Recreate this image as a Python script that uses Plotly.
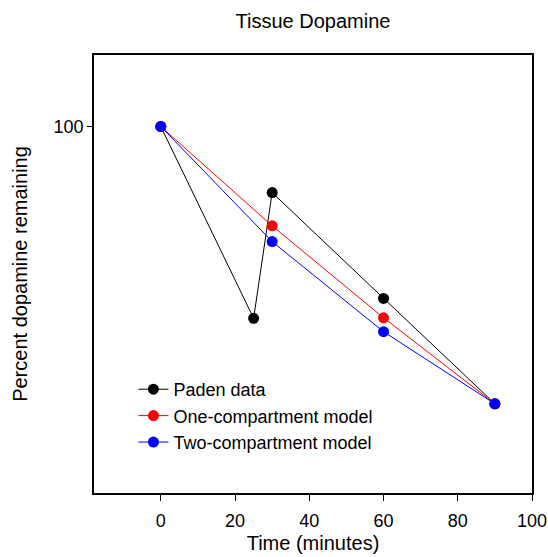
import plotly.graph_objects as go

paden_t = [0, 25, 30, 60, 90]
paden_v = [100, 47.9, 77.6, 51.7, 34.5]

one_t = [0, 30, 60, 90]
one_v = [100, 68.3, 48.0, 34.5]

two_t = [0, 30, 60, 90]
two_v = [100, 64.3, 45.5, 34.5]

x_ticks = [0, 20, 40, 60, 80, 100]
y_ticks = [100]

font = "Liberation Sans, Arial, sans-serif"

W, H = 548, 557

fig = go.Figure()
for name, t, v, c in [("Paden data", paden_t, paden_v, "black"),
                      ("One-compartment model", one_t, one_v, "#ff0000"),
                      ("Two-compartment model", two_t, two_v, "#0000ff")]:
    fig.add_trace(go.Scatter(x=t, y=v, mode="lines+markers", name=name,
                             line=dict(color=c, width=1),
                             marker=dict(color=c, size=11, symbol="circle")))

fig.update_layout(
    width=W, height=H,
    margin=dict(l=94, r=16, t=55, b=64, autoexpand=False),
    paper_bgcolor="white", plot_bgcolor="white",
    font=dict(family=font, color="black"),
    title=dict(text="Tissue Dopamine", x=313 / W, xanchor="center",
               y=1 - 21 / H, yanchor="middle", font=dict(size=20)),
    showlegend=True,
    legend=dict(x=0.09, y=0.2785, xanchor="left", yanchor="top",
                bgcolor="rgba(0,0,0,0)", font=dict(size=18), tracegroupgap=0),
    xaxis=dict(range=[-18, 100], tickvals=x_ticks, ticks="outside", ticklen=6,
               tickcolor="black", showline=True, linecolor="black", linewidth=1.5,
               mirror=True, showgrid=False, zeroline=False, automargin=False,
               tickfont=dict(size=18), ticklabelstandoff=5,
               title=dict(text="Time (minutes)", font=dict(size=20), standoff=6)),
    yaxis=dict(type="log", range=[1.3892, 2.1192], tickvals=y_ticks, ticktext=["100"],
               ticks="outside", ticklen=5, tickcolor="black", showline=True,
               linecolor="black", linewidth=1.5, mirror=True, showgrid=False,
               zeroline=False, automargin=False, tickfont=dict(size=18),
               title=dict(text="Percent dopamine remaining", font=dict(size=20), standoff=21)),
)

fig.write_html("out.html", config={"displayModeBar": False},
               post_script="document.body.style.margin='0';document.body.style.overflow='hidden';")
